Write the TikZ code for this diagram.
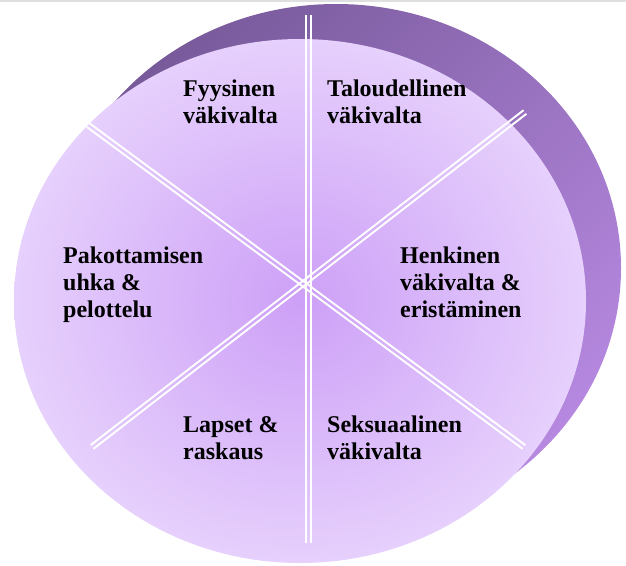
\documentclass[tikz,border=0pt]{standalone}
\usepackage{fontspec}
\setmainfont{Liberation Serif}
\usetikzlibrary{calc}
\definecolor{backdark}{RGB}{120,90,155}
\definecolor{backlight}{RGB}{182,136,224}
\definecolor{frontin}{RGB}{205,160,247}
\definecolor{frontout}{RGB}{230,208,252}
\begin{document}
\begin{tikzpicture}[x=1pt,y=-1pt,
  lbl/.style={anchor=north west, inner sep=0pt, align=left, text=black,
    font=\bfseries\fontsize{24}{27}\selectfont},
  wl/.style={white, line width=1.9pt}]
\useasboundingbox (0,0) rectangle (626,565);
\draw[gray!25, line width=1.5pt] (0,0.75) -- (626,0.75);
% back disk
\shade[top color=backdark, bottom color=backlight, shading angle=45]
  (336,268) ellipse [x radius=285, y radius=264];
% front disk
\shade[inner color=frontin, outer color=frontout]
  (300,301) ellipse [x radius=286, y radius=262];
% double white dividing lines
\coordinate (v1) at (308.3,15);
\coordinate (v2) at (308.3,543);
\coordinate (d1a) at (88,125);
\coordinate (d1b) at (524,447);
\coordinate (d2a) at (92,447);
\coordinate (d2b) at (525,112);
\foreach \p/\q in {v1/v2,d1a/d1b,d2a/d2b}{
  \draw[wl] ($(\p)!2.3pt!90:(\q)$) -- ($(\q)!2.3pt!-90:(\p)$);
  \draw[wl] ($(\p)!2.3pt!-90:(\q)$) -- ($(\q)!2.3pt!90:(\p)$);
}
% labels
\node[lbl] (fyys) at (183,78) {\rule{0pt}{18pt}Fyysinen\\väkivalta};
\node[lbl] (talo) at (327,78) {\rule{0pt}{18pt}Taloudellinen\\väkivalta};
\node[lbl] (pako) at (63,245) {\rule{0pt}{18pt}Pakottamisen\\uhka \&\\pelottelu};
\node[lbl] (henk) at (400,245) {\rule{0pt}{18pt}Henkinen\\väkivalta \&\\eristäminen};
\node[lbl] (laps) at (183,414) {\rule{0pt}{18pt}Lapset \&\\raskaus};
\node[lbl] (seks) at (327,414) {\rule{0pt}{18pt}Seksuaalinen\\väkivalta};
\end{tikzpicture}
\end{document}
